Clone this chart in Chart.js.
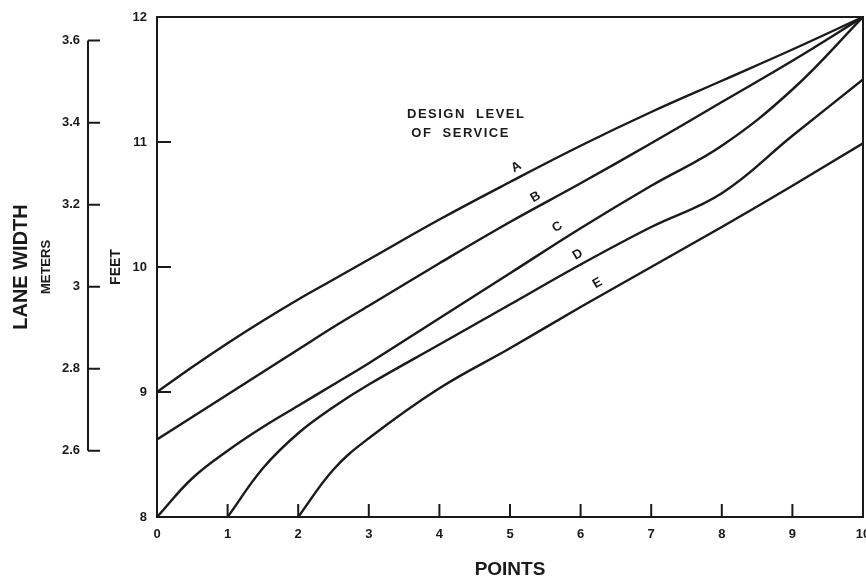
<!doctype html>
<html lang="en">
<head>
  <meta charset="utf-8">
  <title>Lane Width by Design Level of Service</title>
  <script src="https://cdn.jsdelivr.net/npm/chart.js"></script>
  <style>
    html, body { margin: 0; padding: 0; background: #fff; }
    #wrap { width: 866px; height: 584px; }
  </style>
</head>
<body>
<div id="wrap"><canvas id="laneChart"></canvas></div>

<script>
  // values (feet, per point score); half steps where the curves bend most
  const points = [0, 0.5, 1, 1.5, 2, 2.5, 3, 4, 5, 6, 7, 8, 9, 10];
  const levelA = [9.0, 9.20, 9.39, 9.57, 9.74, 9.90, 10.06, 10.38, 10.68, 10.97, 11.24, 11.49, 11.74, 12.0];
  const levelB = [8.62, 8.80, 8.98, 9.16, 9.34, 9.52, 9.69, 10.03, 10.36, 10.67, 10.99, 11.32, 11.65, 12.0];
  const levelC = [8.0, 8.31, 8.53, 8.72, 8.89, 9.06, 9.23, 9.59, 9.95, 10.31, 10.65, 10.97, 11.42, 12.0];
  const levelD = [null, null, 8.0, 8.39, 8.67, 8.88, 9.06, 9.38, 9.70, 10.02, 10.32, 10.59, 11.05, 11.5];
  const levelE = [null, null, null, null, 8.0, 8.38, 8.63, 9.03, 9.35, 9.68, 10.0, 10.32, 10.65, 10.99];

  const feetTicks = [8, 9, 10, 11, 12];
  const pointTicks = [1, 2, 3, 4, 5, 6, 7, 8, 9];
  const meterTicks = [2.6, 2.8, 3.0, 3.2, 3.4, 3.6];
  const FT_PER_M = 3.28084;

  // curve letters sit along the lines, in chart units
  const curveNames = ['A', 'B', 'C', 'D', 'E'];
  const nameX = [5.09, 5.36, 5.67, 5.96, 6.24];
  const nameY = [10.80, 10.56, 10.32, 10.10, 9.87];

  const ink = '#1a1a1a';
  Chart.defaults.font.family = "'Liberation Sans', Arial, sans-serif";
  Chart.defaults.color = ink;

  function toXY(vals) {
    var out = [];
    vals.forEach(function (v, i) {
      if (v !== null) out.push({x: points[i], y: v});
    });
    return out;
  }

  var series = [levelA, levelB, levelC, levelD, levelE].map(function (vals, i) {
    return {
      label: curveNames[i],
      data: toXY(vals),
      borderColor: ink,
      borderWidth: 2.4,
      pointRadius: 0,
      tension: 0.4,
      fill: false
    };
  });

  // frame, inward ticks, the meters bar and the curve letters
  var figureBits = {
    id: 'figureBits',
    afterDraw: function (chart) {
      var ctx = chart.ctx;
      var a = chart.chartArea;
      var xs = chart.scales.x, ys = chart.scales.y, ms = chart.scales.m;
      ctx.save();
      ctx.strokeStyle = ink;
      ctx.lineWidth = 2;
      ctx.strokeRect(a.left, a.top, a.right - a.left, a.bottom - a.top);

      ctx.beginPath();
      pointTicks.forEach(function (p) {
        var px = xs.getPixelForValue(p);
        ctx.moveTo(px, a.bottom);
        ctx.lineTo(px, a.bottom - 13);
      });
      feetTicks.forEach(function (f) {
        if (f === 8 || f === 12) return;
        var py = ys.getPixelForValue(f);
        ctx.moveTo(a.left, py);
        ctx.lineTo(a.left + 14, py);
      });
      ctx.stroke();

      // meters bar
      var barX = ms.right - 16;
      ctx.beginPath();
      ctx.moveTo(barX, ms.getPixelForValue(meterTicks[meterTicks.length - 1]));
      ctx.lineTo(barX, ms.getPixelForValue(meterTicks[0]));
      meterTicks.forEach(function (m) {
        var py = ms.getPixelForValue(m);
        ctx.moveTo(barX, py);
        ctx.lineTo(barX + 12, py);
      });
      ctx.stroke();

      // curve letters
      ctx.fillStyle = ink;
      ctx.font = 'bold 13px "Liberation Sans", Arial, sans-serif';
      ctx.textAlign = 'center';
      ctx.textBaseline = 'middle';
      curveNames.forEach(function (n, i) {
        ctx.save();
        ctx.translate(xs.getPixelForValue(nameX[i]), ys.getPixelForValue(nameY[i]));
        ctx.rotate(-Math.PI / 6);
        ctx.fillText(n, 0, 0);
        ctx.restore();
      });

      // heading inside the plot
      ctx.letterSpacing = '1.5px';
      ctx.fillText('DESIGN  LEVEL', xs.getPixelForValue(4.38), ys.getPixelForValue(11.22));
      ctx.fillText('OF  SERVICE', xs.getPixelForValue(4.30), ys.getPixelForValue(11.07));
      ctx.restore();
    }
  };

  var config = {
    type: 'line',
    data: {datasets: series},
    plugins: [figureBits],
    options: {
      responsive: true,
      maintainAspectRatio: false,
      animation: false,
      layout: {padding: {top: 17, right: 3, left: 0, bottom: 0}},
      plugins: {
        legend: {display: false},
        tooltip: {enabled: false},
        title: {
          display: true,
          text: 'LANE WIDTH',
          position: 'left',
          fullSize: false,
          color: ink,
          font: {size: 20, weight: 'bold'},
          padding: {top: 9, bottom: 0}
        }
      },
      scales: {
        x: {
          type: 'linear',
          position: 'bottom',
          min: 0,
          max: 10,
          grid: {display: false, drawTicks: false},
          border: {display: false},
          ticks: {stepSize: 1, padding: 10, font: {size: 13, weight: 'bold'}, color: ink},
          title: {display: true, text: 'POINTS', color: ink, font: {size: 19, weight: 'bold'}, padding: {top: 0, bottom: 3}},
          afterFit: function (s) { s.height = 67; s.paddingRight = 0; }
        },
        y: {
          type: 'linear',
          position: 'left',
          weight: 0,
          min: 8,
          max: 12,
          grid: {display: false, drawTicks: false},
          border: {display: false},
          ticks: {stepSize: 1, padding: 10, font: {size: 13, weight: 'bold'}, color: ink},
          title: {display: true, text: 'FEET', color: ink, font: {size: 14, weight: 'bold'}, padding: {top: 4, bottom: 0}},
          afterFit: function (s) { s.width = 53; s.paddingTop = 0; s.paddingBottom = 0; }
        },
        m: {
          type: 'linear',
          position: 'left',
          weight: 1,
          min: 8 / FT_PER_M,
          max: 12 / FT_PER_M,
          grid: {display: false, drawTicks: false},
          border: {display: false},
          afterBuildTicks: function (s) {
            s.ticks = meterTicks.map(function (v) { return {value: v}; });
          },
          ticks: {
            padding: 24,
            font: {size: 13, weight: 'bold'},
            color: ink,
            callback: function (v) { return v === 3 ? '3' : v.toFixed(1); }
          },
          title: {display: true, text: 'METERS', color: ink, font: {size: 13, weight: 'bold'}, padding: {top: 6, bottom: 0}},
          afterFit: function (s) { s.width = 71; s.paddingTop = 0; s.paddingBottom = 0; }
        }
      }
    }
  };

  var laneChart = new Chart(document.getElementById('laneChart'), config);
</script>
</body>
</html>
